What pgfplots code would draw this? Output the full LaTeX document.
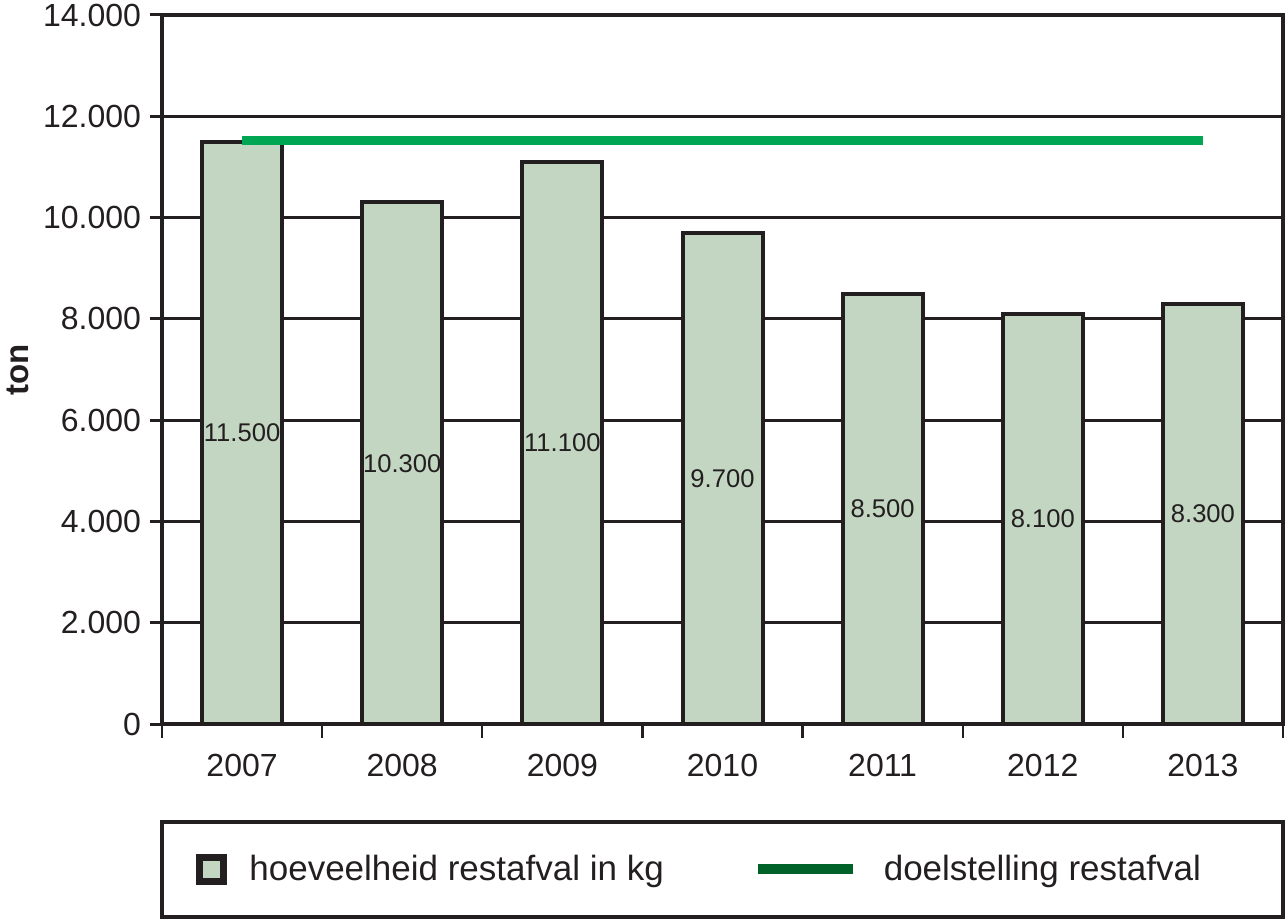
\documentclass[border=0pt]{standalone}
\usepackage{fontspec}
\setmainfont{Liberation Sans}
\usepackage{pgfplots}
\pgfplotsset{compat=1.18}
\definecolor{barfill}{HTML}{C2D6C2}
\definecolor{barline}{HTML}{231F20}
\definecolor{goalgreen}{HTML}{00A651}
\definecolor{legendgreen}{HTML}{006129}
\begin{document}
\begin{tikzpicture}
\begin{axis}[
  scale only axis,
  width=560.5bp, height=354.5bp,
  xmin=-0.5, xmax=6.5,
  ymin=0, ymax=14000,
  clip=false,
  axis line style={draw=barline, line width=2bp},
  xtick={0,1,2,3,4,5,6},
  xticklabels={2007,2008,2009,2010,2011,2012,2013},
  minor xtick={-0.5,0.5,1.5,2.5,3.5,4.5,5.5,6.5},
  major x tick style={draw=none},
  minor x tick style={draw=barline, line width=1.2bp},
  minor tick length=7bp,
  ytick={0,2000,4000,6000,8000,10000,12000,14000},
  scaled y ticks=false,
  major y tick style={draw=barline, line width=1.5bp},
  major tick length=6bp,
  tick align=outside,
  xtick pos=bottom, ytick pos=left,
  ymajorgrids,
  major grid style={draw=barline, line width=1.5bp},
  /pgf/number format/.cd, 1000 sep={.}, assume math mode=true,
  /pgfplots/.cd,
  tick label style={font=\fontsize{16bp}{19bp}\selectfont, text=barline},
  yticklabel style={xshift=-1bp},
  xticklabel style={yshift=-5.5bp},
  ylabel={\textbf{ton}},
  every axis y label/.style={at={(axis description cs:0,0.5)}, rotate=90, anchor=center, yshift=72bp,
    font=\fontsize{16.5bp}{19bp}\selectfont, text=barline},
  legend columns=2,
  legend style={draw=none, fill=none, inner sep=0pt, at={(rel axis cs:0.03033,-0.2052)}, anchor=west,
    nodes={inner sep=0pt, font=\fontsize{17.5bp}{21bp}\selectfont, text=barline},
    /tikz/every odd column/.append style={column sep=11bp},
    /tikz/every even column/.append style={column sep=44.5bp}},
]
\addplot[ybar, bar width=40bp, fill=barfill, draw=barline, line width=2bp,
  legend image code/.code={\path (0bp,-6.75bp) rectangle (13.5bp,6.75bp);
    \draw[fill=barfill, draw=barline, line width=2.5bp] (1.25bp,-5.5bp) rectangle (12.25bp,5.5bp);}]
  coordinates {(0,11500) (1,10300) (2,11100) (3,9700) (4,8500) (5,8100) (6,8300)};
\addlegendentry{hoeveelheid restafval in kg}
\addplot[goalgreen, line width=4.5bp, line cap=butt,
  legend image code/.code={\draw[legendgreen, line width=5bp, line cap=butt] (0bp,0bp) -- (47.5bp,0bp);}]
  coordinates {(0,11530) (6,11530)};
\addlegendentry{\hspace{2bp}doelstelling restafval}
\addplot[only marks, mark=none, nodes near coords, point meta=explicit symbolic,
  nodes near coords style={font=\fontsize{12.8bp}{15bp}\selectfont, text=barline, anchor=center, inner sep=0pt},
  forget plot]
  coordinates {(0,5750)[11.500] (1,5150)[10.300] (2,5550)[11.100] (3,4850)[9.700] (4,4250)[8.500] (5,4050)[8.100] (6,4150)[8.300]};
\draw[draw=barline, line width=2bp] (rel axis cs:0,-0.13822) rectangle (rel axis cs:1,-0.27221);
\end{axis}
\pgfresetboundingbox
\path[use as bounding box] (-81bp,-98bp) rectangle (562.5bp,362bp);
\end{tikzpicture}
\end{document}
